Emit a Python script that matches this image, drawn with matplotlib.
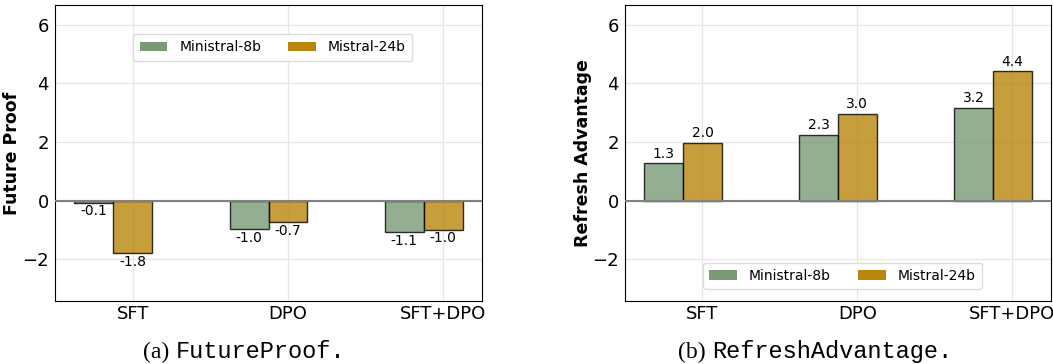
import matplotlib
matplotlib.use("Agg")
import matplotlib.pyplot as plt
import numpy as np
from matplotlib.patches import Patch

categories = ["SFT", "DPO", "SFT+DPO"]
series_names = ["Ministral-8b", "Mistral-24b"]
future_proof_8b = [-0.08, -0.98, -1.08]
future_proof_24b = [-1.79, -0.74, -1.00]
refresh_8b = [1.27, 2.25, 3.15]
refresh_24b = [1.98, 2.96, 4.41]
label_fp_8b = ["-0.1", "-1.0", "-1.1"]
label_fp_24b = ["-1.8", "-0.7", "-1.0"]
label_rf_8b = ["1.3", "2.3", "3.2"]
label_rf_24b = ["2.0", "3.0", "4.4"]

green = "#7a9a76"
gold = "#b8860b"

W, H = 1053, 364
fig = plt.figure(figsize=(W / 100, H / 100), dpi=100)

def px_axes(x0, x1, y0, y1):
    return fig.add_axes([x0 / W, (H - y1) / H, (x1 - x0) / W, (y1 - y0) / H])

ax1 = px_axes(55, 482, 5, 301)
ax2 = px_axes(625, 1051, 5, 301)

def draw(ax, v8, v24, l8, l24, ylabel, ylabel_x, legend_loc, legend_anchor):
    x = np.arange(len(categories))
    w = 0.25
    ax.set_axisbelow(True)
    ax.grid(True, color="#e6e6e6", linewidth=0.9)
    b1 = ax.bar(x - w, v8, w, color=green, alpha=0.8, edgecolor="black", linewidth=1.0)
    b2 = ax.bar(x, v24, w, color=gold, alpha=0.8, edgecolor="black", linewidth=1.0)
    for bars, labs in ((b1, l8), (b2, l24)):
        for rect, lab in zip(bars, labs):
            h = rect.get_height()
            cx = rect.get_x() + rect.get_width() / 2
            if h >= 0:
                ax.annotate(lab, (cx, h), xytext=(0, 2), textcoords="offset points",
                            ha="center", va="bottom", fontsize=10)
            else:
                ax.annotate(lab, (cx, h), xytext=(0, -1), textcoords="offset points",
                            ha="center", va="top", fontsize=10)
    ax.axhline(0, color="gray", linewidth=1.5, zorder=3)
    ax.set_xlim(-0.5, 2.25)
    ax.set_ylim(-3.42, 6.67)
    ax.set_yticks([-2, 0, 2, 4, 6])
    ax.set_xticks(x)
    ax.set_xticklabels(categories)
    ax.tick_params(labelsize=13, length=0)
    ax.tick_params(axis="y", pad=4.3)
    ax.tick_params(axis="x", pad=3)
    ax.set_ylabel(ylabel, fontsize=12.5, fontweight="bold")
    ax.yaxis.set_label_coords(ylabel_x, 0.5)
    handles = [Patch(facecolor=green, label=series_names[0]),
               Patch(facecolor=gold, label=series_names[1])]
    ax.legend(handles=handles, loc=legend_loc, bbox_to_anchor=legend_anchor, ncol=2,
              fontsize=10, handlelength=2.0, handletextpad=0.86, columnspacing=1.95,
              borderpad=0.45, borderaxespad=0, framealpha=1, edgecolor="#dddddd")

draw(ax1, future_proof_8b, future_proof_24b, label_fp_8b, label_fp_24b,
     "Future Proof", (21 - 55) / 427, "upper center", (0.51, 0.902))
draw(ax2, refresh_8b, refresh_24b, label_rf_8b, label_rf_24b,
     "Refresh Advantage", (592 - 625) / 426, "lower center", (0.51, 0.04))

def caption(xc, tag, name):
    t1 = fig.text(0, 0, tag + " ", fontsize=17, family="Liberation Serif")
    t2 = fig.text(0, 0, name, fontsize=17, family="Liberation Mono")
    fig.canvas.draw()
    r = fig.canvas.get_renderer()
    w1 = t1.get_window_extent(r).width
    w2 = t2.get_window_extent(r).width
    x0 = xc - (w1 + w2) / 2
    y = 6
    t1.set_position((x0 / W, y / H))
    t2.set_position(((x0 + w1) / W, y / H))

caption(244, "(a)", "FutureProof.")
caption(815, "(b)", "RefreshAdvantage.")

fig.savefig("out.png", dpi=100)
